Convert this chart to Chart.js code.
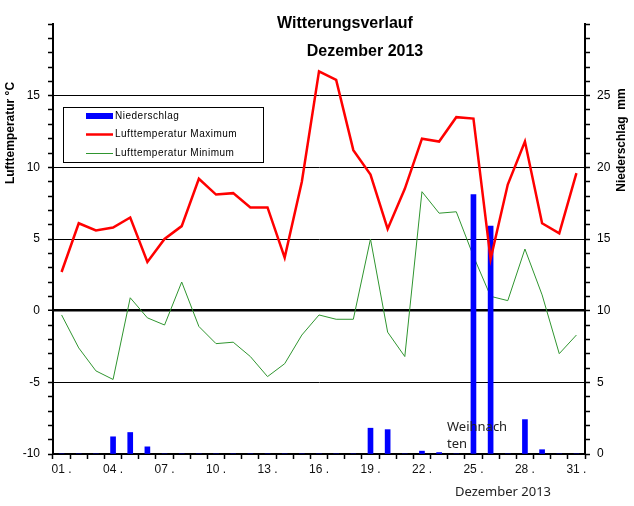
<!DOCTYPE html>
<html lang="de">
<head>
    <meta charset="UTF-8">
    <title>Witterungsverlauf Dezember 2013</title>
    <script src="https://cdn.jsdelivr.net/npm/chart.js"></script>
    <style>
        body { margin: 0; background: #fff; }
        canvas { display: block; }
    </style>
</head>
<body>
    <canvas id="wetterChart" width="634" height="506"></canvas>

    <script>
        // Tage im Dezember
        const tage = ['01','02','03','04','05','06','07','08','09','10','11','12','13','14','15','16',
                      '17','18','19','20','21','22','23','24','25','26','27','28','29','30','31'];
        // Lufttemperatur Maximum (°C)
        const tempMax = [2.7, 6.1, 5.6, 5.8, 6.5, 3.4, 5.0, 5.9, 9.2, 8.1, 8.2, 7.2, 7.2, 3.7, 9.0, 16.7,
                         16.1, 11.2, 9.5, 5.7, 8.5, 12.0, 11.8, 13.5, 13.4, 3.6, 8.8, 11.8, 6.1, 5.4, 9.6];
        // Lufttemperatur Minimum (°C)
        const tempMin = [-0.3, -2.6, -4.2, -4.8, 0.9, -0.5, -1.0, 2.0, -1.1, -2.3, -2.2, -3.2, -4.6, -3.7, -1.7, -0.3,
                         -0.6, -0.6, 5.0, -1.5, -3.2, 8.3, 6.8, 6.9, 3.8, 1.0, 0.7, 4.3, 1.1, -3.0, -1.7];
        // Niederschlag (mm)
        const niederschlag = [0, 0, 0, 1.2, 1.5, 0.5, 0, 0, 0, 0, 0, 0, 0, 0, 0, 0,
                              0, 0, 1.8, 1.7, 0, 0.2, 0.1, 0, 18.1, 15.9, 0, 2.4, 0.3, 0, 0];
        // Achsen
        const tempAchse = { min: -10, max: 20 };
        const regenAchse = { min: 0, max: 30 };

        const blau = '#0000ff';
        const rot = '#ff0000';
        const gruen = '#2f952f';
        const schrift = 'Liberation Sans, Arial, sans-serif';

        // Titel, Achsentitel, Legende und Hinweis
        const beschriftung = {
            id: 'beschriftung',
            afterDraw(chart) {
                const c = chart.ctx;
                c.save();
                c.fillStyle = '#000';
                c.textAlign = 'center';
                c.textBaseline = 'middle';
                c.font = 'bold 16px ' + schrift;
                c.fillText('Witterungsverlauf', 345, 24);
                c.fillText('Dezember 2013', 365, 52);

                c.font = 'bold 12px ' + schrift;
                c.save();
                c.translate(11, 133);
                c.rotate(-Math.PI / 2);
                c.fillText('Lufttemperatur °C', 0, 0);
                c.restore();
                c.save();
                c.translate(622, 140);
                c.rotate(-Math.PI / 2);
                c.fillText('Niederschlag  mm', 0, 0);
                c.restore();

                c.fillStyle = '#222';
                c.font = '13px Noto Sans, sans-serif';
                c.fillText('Dezember 2013', 503, 492);
                c.textAlign = 'left';
                c.fillText('Weihnach', 447, 427);
                c.fillText('ten', 447, 444);

                // Legende
                c.fillStyle = '#fff';
                c.fillRect(63, 107, 200, 55);
                c.strokeStyle = '#000';
                c.lineWidth = 1;
                c.strokeRect(63.5, 107.5, 200, 55);
                c.fillStyle = blau;
                c.fillRect(86, 113, 27, 6);
                c.strokeStyle = rot;
                c.lineWidth = 2.5;
                c.beginPath(); c.moveTo(86, 134.5); c.lineTo(113, 134.5); c.stroke();
                c.strokeStyle = gruen;
                c.lineWidth = 1;
                c.beginPath(); c.moveTo(86, 153.5); c.lineTo(113, 153.5); c.stroke();
                c.fillStyle = '#000';
                c.font = '10px ' + schrift;
                c.letterSpacing = '0.5px';
                c.fillText('Niederschlag', 115, 116);
                c.fillText('Lufttemperatur Maximum', 115, 134);
                c.fillText('Lufttemperatur Minimum', 115, 153);
                c.restore();
            }
        };

        const ctx = document.getElementById('wetterChart').getContext('2d');
        new Chart(ctx, {
            data: {
                labels: tage,
                datasets: [
                    {
                        type: 'bar',
                        label: 'Niederschlag',
                        data: niederschlag,
                        backgroundColor: blau,
                        barThickness: 5,
                        yAxisID: 'y1',
                        order: 2
                    },
                    {
                        type: 'line',
                        label: 'Lufttemperatur Maximum',
                        data: tempMax,
                        borderColor: rot,
                        borderWidth: 2.5,
                        pointRadius: 0,
                        tension: 0,
                        yAxisID: 'y',
                        order: 1
                    },
                    {
                        type: 'line',
                        label: 'Lufttemperatur Minimum',
                        data: tempMin,
                        borderColor: gruen,
                        borderWidth: 1,
                        pointRadius: 0,
                        tension: 0,
                        yAxisID: 'y',
                        order: 3
                    }
                ]
            },
            options: {
                responsive: false,
                animation: false,
                layout: { padding: { top: 24 } },
                plugins: {
                    legend: { display: false },
                    tooltip: { enabled: false }
                },
                scales: {
                    x: {
                        offset: true,
                        afterFit: s => { s.height = 52; },
                        grid: {
                            offset: true,
                            drawOnChartArea: false,
                            tickLength: 5,
                            tickColor: '#000',
                            tickWidth: 1.5
                        },
                        border: { color: '#000', width: 2 },
                        ticks: {
                            autoSkip: false,
                            maxRotation: 0,
                            padding: 3,
                            color: '#111',
                            font: { family: schrift, size: 12 },
                            callback: (v, i) => i % 3 === 0 ? tage[i] + ' .' : ''
                        }
                    },
                    y: {
                        position: 'left',
                        min: tempAchse.min,
                        max: tempAchse.max,
                        afterFit: s => { s.width = 53; },
                        grid: {
                            color: g => (g.tick.value % 5 === 0 && g.tick.value !== tempAchse.max && g.tick.value !== tempAchse.min) ? '#000' : 'rgba(0,0,0,0)',
                            lineWidth: g => g.tick.value === 0 ? 2.5 : 1,
                            tickLength: 5,
                            tickColor: '#000',
                            tickWidth: 1.5
                        },
                        border: { color: '#000', width: 2 },
                        ticks: {
                            stepSize: 1,
                            autoSkip: false,
                            padding: 8,
                            color: '#000',
                            font: { family: schrift, size: 12 },
                            callback: v => (v % 5 === 0 && v !== tempAchse.max) ? v : ''
                        }
                    },
                    y1: {
                        position: 'right',
                        min: regenAchse.min,
                        max: regenAchse.max,
                        afterFit: s => { s.width = 49; },
                        grid: {
                            drawOnChartArea: false,
                            tickLength: 5,
                            tickColor: '#000',
                            tickWidth: 1.5
                        },
                        border: { color: '#000', width: 2 },
                        ticks: {
                            stepSize: 1,
                            autoSkip: false,
                            padding: 7,
                            color: '#000',
                            font: { family: schrift, size: 12 },
                            callback: v => (v % 5 === 0 && v !== regenAchse.max) ? v : ''
                        }
                    }
                }
            },
            plugins: [beschriftung]
        });
    </script>
</body>
</html>
